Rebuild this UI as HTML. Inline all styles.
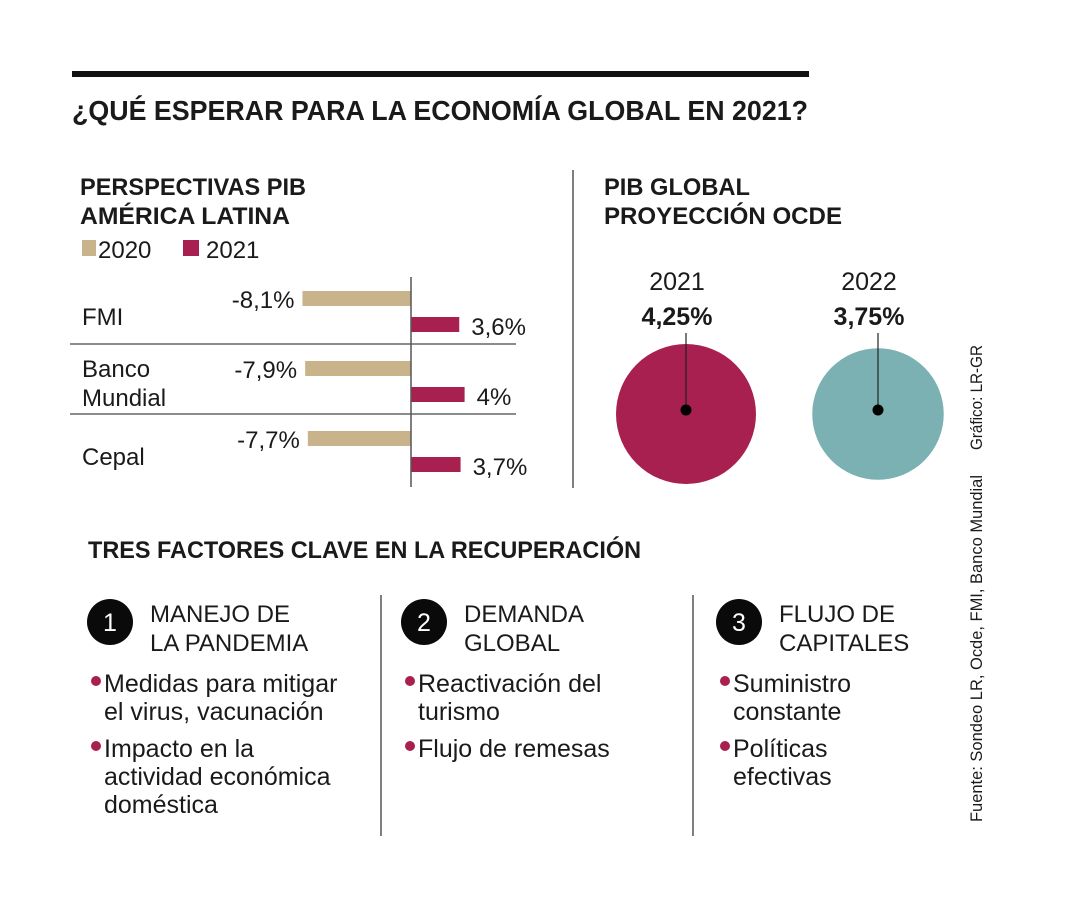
<!DOCTYPE html>
<html><head><meta charset="utf-8"><style>
html,body{margin:0;padding:0;background:#fff}
svg{display:block}
text{font-family:"Liberation Sans",sans-serif;fill:#1a1a1a}
.b{font-weight:bold}
</style></head><body>
<svg id="c" width="1080" height="900" viewBox="0 0 1080 900">
<rect x="72" y="71" width="737" height="6" fill="#111"/>
<text x="72" y="120" class="b" font-size="28" textLength="736" lengthAdjust="spacingAndGlyphs">¿QUÉ ESPERAR PARA LA ECONOMÍA GLOBAL EN 2021?</text>

<text x="80" y="195" class="b" font-size="24" textLength="226" lengthAdjust="spacingAndGlyphs">PERSPECTIVAS PIB</text>
<text x="80" y="224" class="b" font-size="24" textLength="210" lengthAdjust="spacingAndGlyphs">AMÉRICA LATINA</text>
<rect x="82" y="240" width="14" height="16" fill="#c8b38b"/>
<text x="98" y="258" font-size="24">2020</text>
<rect x="183" y="240" width="16" height="16" fill="#a82050"/>
<text x="206" y="258" font-size="24">2021</text>
<g id="bars"></g>

<line x1="573" y1="170" x2="573" y2="488" stroke="#555" stroke-width="1.5"/>
<text x="604" y="195" class="b" font-size="24" textLength="146" lengthAdjust="spacingAndGlyphs">PIB GLOBAL</text>
<text x="604" y="224" class="b" font-size="24" textLength="238" lengthAdjust="spacingAndGlyphs">PROYECCIÓN OCDE</text>
<g id="circles"></g>

<text transform="translate(982,450) rotate(-90)" font-size="17" textLength="105" lengthAdjust="spacingAndGlyphs">Gráfico: LR-GR</text>
<text transform="translate(982,822) rotate(-90)" font-size="17" textLength="347" lengthAdjust="spacingAndGlyphs">Fuente: Sondeo LR, Ocde, FMI, Banco Mundial</text>

<text x="88" y="558" class="b" font-size="24" textLength="553" lengthAdjust="spacingAndGlyphs">TRES FACTORES CLAVE EN LA RECUPERACIÓN</text>
<line x1="381" y1="595" x2="381" y2="836" stroke="#555" stroke-width="1.5"/>
<line x1="693" y1="595" x2="693" y2="836" stroke="#555" stroke-width="1.5"/>
<g id="factors"></g>
</svg>
<script>
const NS='http://www.w3.org/2000/svg';
const entities=['FMI','Banco Mundial','Cepal'];
const values2020=[-8.1,-7.9,-7.7];
const values2021=[3.6,4.0,3.7];
const labels2020=['-8,1%','-7,9%','-7,7%'];
const labels2021=['3,6%','4%','3,7%'];
const circleYears=['2021','2022'];
const circleValues=[4.25,3.75];
const circleLabels=['4,25%','3,75%'];

function mk(tag,attrs,parent,txt){const e=document.createElementNS(NS,tag);for(const k in attrs)e.setAttribute(k,attrs[k]);if(txt!==undefined)e.textContent=txt;parent.appendChild(e);return e;}
const x0=411, pxPerUnit=13.4;
const xs=v=>x0+v*pxPerUnit;
const rowTop=277, rowH=70;
const bars=document.getElementById('bars');
entities.forEach((name,i)=>{
  const y=rowTop+i*rowH;
  const parts=name.split(' ');
  const t=mk('text',{x:82,y:y+48,'font-size':24},bars);
  
  
  if(parts.length>1){
    t.setAttribute('y',y+30);
    parts.forEach((p,j)=>{mk('tspan',{x:82,dy:j?29:0},t,p);});
  } else { t.textContent=name; }
  const v1=values2020[i], v2=values2021[i];
  const b1=mk('rect',{x:xs(v1),y:y+14,width:xs(0)-xs(v1),height:15,fill:'#c8b38b'},bars);
  
  
  const b2=mk('rect',{x:xs(0),y:y+40,width:xs(v2)-xs(0),height:15,fill:'#a82050'},bars);
  
  
  const l1=mk('text',{x:xs(v1)-8,y:y+31,'font-size':24,'text-anchor':'end'},bars,labels2020[i]);
  
  
  const l2=mk('text',{x:xs(v2)+12,y:y+58,'font-size':24},bars,labels2021[i]);
  
  
  if(i>0){const s=mk('line',{x1:70,x2:516,y1:y-3,y2:y-3,stroke:'#666','stroke-width':1.5},bars);
    
    }
});
const ax=mk('line',{x1:x0,x2:x0,y1:277,y2:487,stroke:'#555','stroke-width':1.5},bars);



const circ=document.getElementById('circles');
const cxs=[686,878], cy=414, rScale=33.95;
circleValues.forEach((v,i)=>{
  const c=mk('circle',{cx:cxs[i],cy:cy,r:Math.sqrt(v)*rScale,fill:i==0?'#a82050':'#7bb1b2'},circ);
  
  
  const ln=mk('line',{x1:cxs[i],x2:cxs[i],y1:333,y2:410,stroke:'#222','stroke-width':1.2},circ);
  
  
  const d=mk('circle',{cx:cxs[i],cy:410,r:5.5,fill:'#000'},circ);
  
  
  const y=mk('text',{x:cxs[i]-9,y:290,'font-size':25,'text-anchor':'middle'},circ,circleYears[i]);
  
  
  const l=mk('text',{x:cxs[i]-9,y:325,'font-size':25,'text-anchor':'middle',class:'b'},circ,circleLabels[i]);
  
  
});

const factorTitles=[['MANEJO DE','LA PANDEMIA'],['DEMANDA','GLOBAL'],['FLUJO DE','CAPITALES']];
const factorBullets=[[['Medidas para mitigar','el virus, vacunación'],['Impacto en la','actividad económica','doméstica']],
 [['Reactivación del','turismo'],['Flujo de remesas']],
 [['Suministro','constante'],['Políticas','efectivas']]];
const fx=[88,402,717];
const fg=document.getElementById('factors');
factorTitles.forEach((tt,i)=>{
  const x=fx[i];
  const c=mk('circle',{cx:x+22,cy:622,r:23,fill:'#0a0a0a'},fg);
  
  
  const n=mk('text',{x:x+22,y:631,'font-size':25,'text-anchor':'middle',style:'fill:#fff'},fg,String(i+1));
  
  
  tt.forEach((line,j)=>{const t=mk('text',{x:x+62,y:622+j*29,'font-size':24},fg,line);
    
    });
  let by=692;
  factorBullets[i].forEach((b,k)=>{
    const d=mk('circle',{cx:x+8,cy:by-11,r:5,fill:'#a82050'},fg);
    
    
    b.forEach((line,j)=>{const t=mk('text',{x:x+16,y:by+j*28,'font-size':25},fg,line);
      
      });
    by+=b.length*28+9;
  });
});
</script>
</body></html>
